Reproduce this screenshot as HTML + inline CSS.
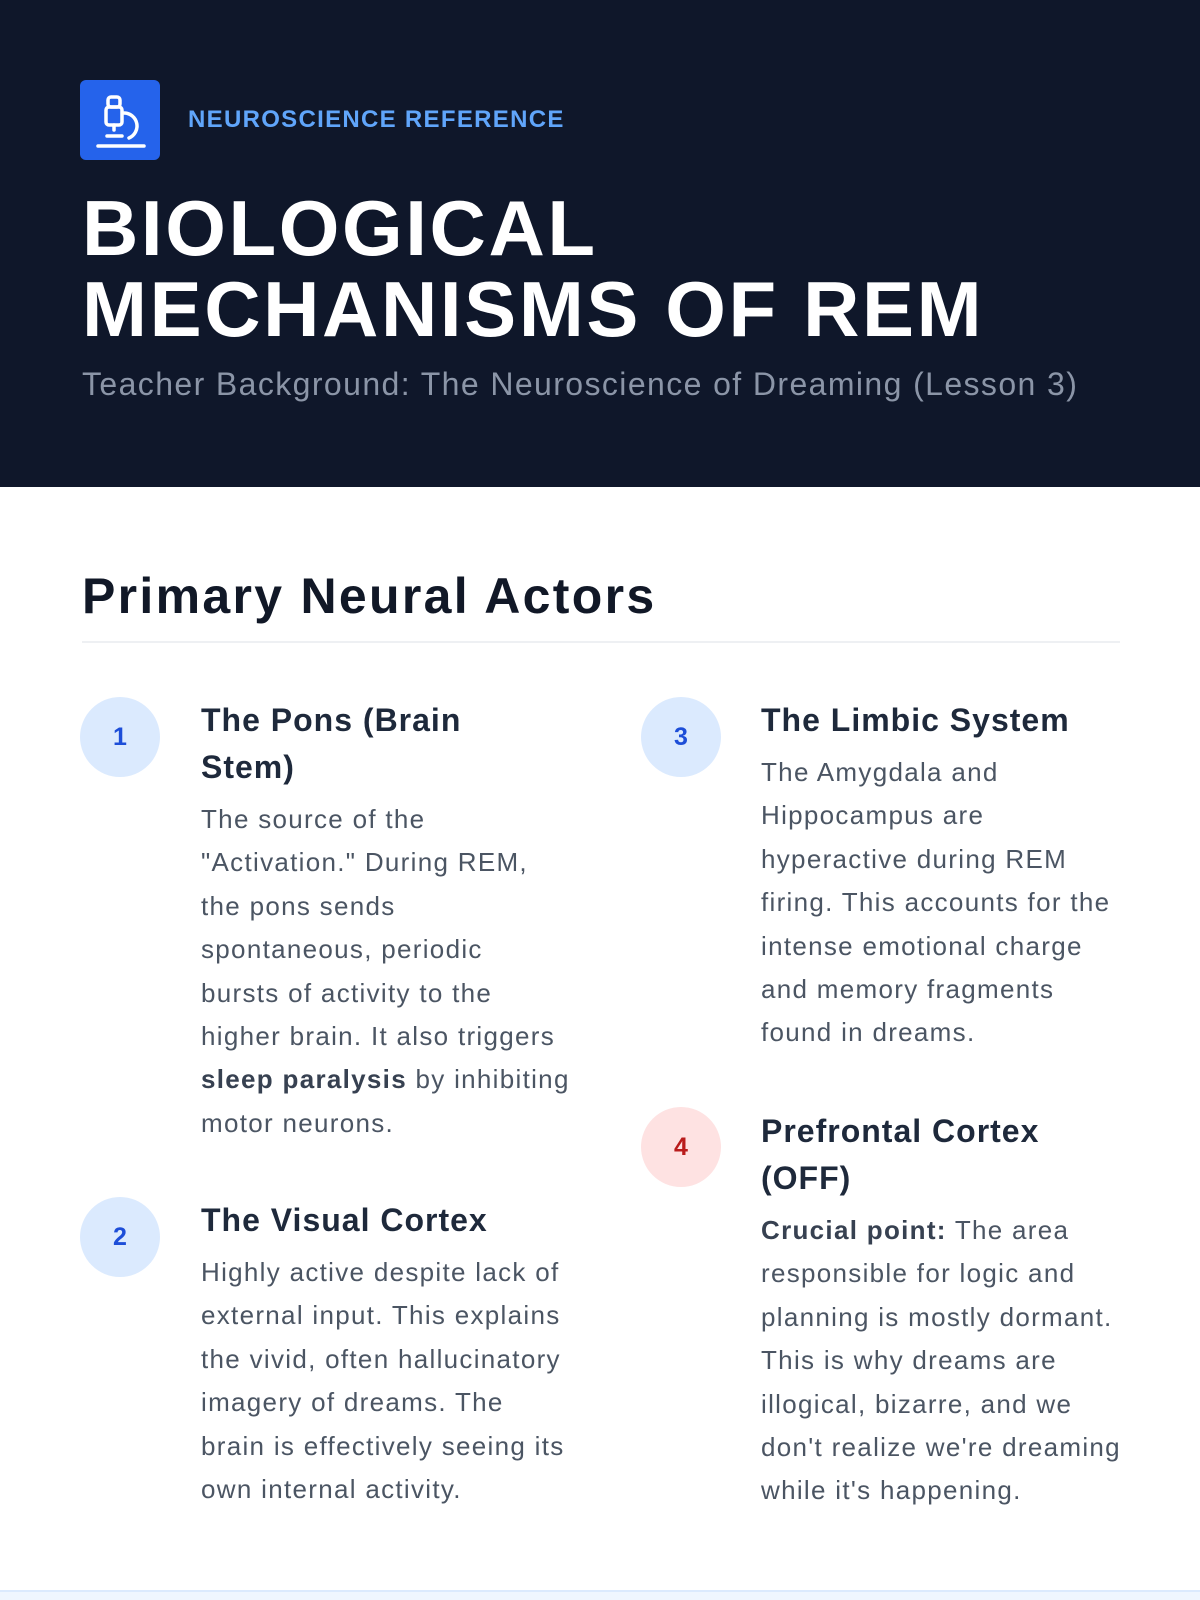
<!DOCTYPE html>
<html><head><meta charset="utf-8"><style>
*{margin:0;padding:0;box-sizing:border-box}
body{width:1200px;height:1600px;overflow:hidden;background:#fff;font-family:"Liberation Sans",sans-serif;position:relative}
.hdr{position:absolute;left:0;top:0;width:1200px;height:487px;background:#0f172a}
.icon{position:absolute;left:80px;top:80px;width:80px;height:80px;background:#2563eb;border-radius:6px}
.lab{position:absolute;left:188px;top:106px;font-size:24px;font-weight:bold;letter-spacing:1.3px;color:#60a5fa;line-height:28px}
.t{position:absolute;left:82px;color:#fff;font-weight:bold;font-size:78px;letter-spacing:2.6px;line-height:80px;white-space:nowrap}
.sub{position:absolute;left:82px;top:364px;font-size:32px;color:#8b95a7;line-height:40px;white-space:nowrap;letter-spacing:1.4px}
h2{position:absolute;left:82px;top:568px;font-size:50px;color:#111827;line-height:56px;white-space:nowrap;letter-spacing:2.3px}
.div{position:absolute;left:82px;top:641px;width:1038px;height:2px;background:#eef0f3}
.c{position:absolute;width:80px;height:80px;border-radius:50%;background:#dbeafe;color:#1d4ed8;font-weight:bold;font-size:25px;text-align:center;line-height:80px}
.c.r{background:#fee2e2;color:#b91c1c}
.it{position:absolute;width:400px}
.it h3{font-size:32px;line-height:47px;color:#1e293b;font-weight:bold;letter-spacing:1px;white-space:nowrap}
.it p{font-size:26px;line-height:43.4px;color:#4b5563;margin-top:7px;white-space:nowrap;letter-spacing:1.3px}
.it p b{color:#374151}
.band{position:absolute;left:0;top:1590px;width:1200px;height:10px;background:#eff6ff;border-top:2px solid #dbeafe}
</style></head><body>
<div class="hdr"></div>
<div class="icon"><svg width="80" height="80" viewBox="0 0 80 80" fill="none" stroke="#fff" stroke-width="3.5" stroke-linecap="round" stroke-linejoin="round">
<rect x="28" y="17" width="12" height="10" rx="3"/><rect x="26" y="27" width="16" height="18" rx="3"/><path d="M34 45v5"/><path d="M44 33a13 13 0 0 1 5 25"/><path d="M27 56h15"/><path d="M18 66h46"/></svg></div>
<div class="lab">NEUROSCIENCE REFERENCE</div>
<div class="t" style="top:188px">BIOLOGICAL</div>
<div class="t" style="top:269px">MECHANISMS OF REM</div>
<div class="sub">Teacher Background: The Neuroscience of Dreaming (Lesson 3)</div>
<h2>Primary Neural Actors</h2>
<div class="div"></div>

<div class="c" style="left:80px;top:697px">1</div>
<div class="it" style="left:201px;top:697px"><h3>The Pons (Brain<br>Stem)</h3><p>The source of the<br>"Activation." During REM,<br>the pons sends<br>spontaneous, periodic<br>bursts of activity to the<br>higher brain. It also triggers<br><b>sleep paralysis</b> by inhibiting<br>motor neurons.</p></div>

<div class="c" style="left:80px;top:1197px">2</div>
<div class="it" style="left:201px;top:1197px"><h3>The Visual Cortex</h3><p>Highly active despite lack of<br>external input. This explains<br>the vivid, often hallucinatory<br>imagery of dreams. The<br>brain is effectively seeing its<br>own internal activity.</p></div>

<div class="c" style="left:641px;top:697px">3</div>
<div class="it" style="left:761px;top:697px"><h3>The Limbic System</h3><p>The Amygdala and<br>Hippocampus are<br>hyperactive during REM<br>firing. This accounts for the<br>intense emotional charge<br>and memory fragments<br>found in dreams.</p></div>

<div class="c r" style="left:641px;top:1107px">4</div>
<div class="it" style="left:761px;top:1108px"><h3>Prefrontal Cortex<br>(OFF)</h3><p><b>Crucial point:</b> The area<br>responsible for logic and<br>planning is mostly dormant.<br>This is why dreams are<br>illogical, bizarre, and we<br>don't realize we're dreaming<br>while it's happening.</p></div>

<div class="band"></div>
</body></html>
